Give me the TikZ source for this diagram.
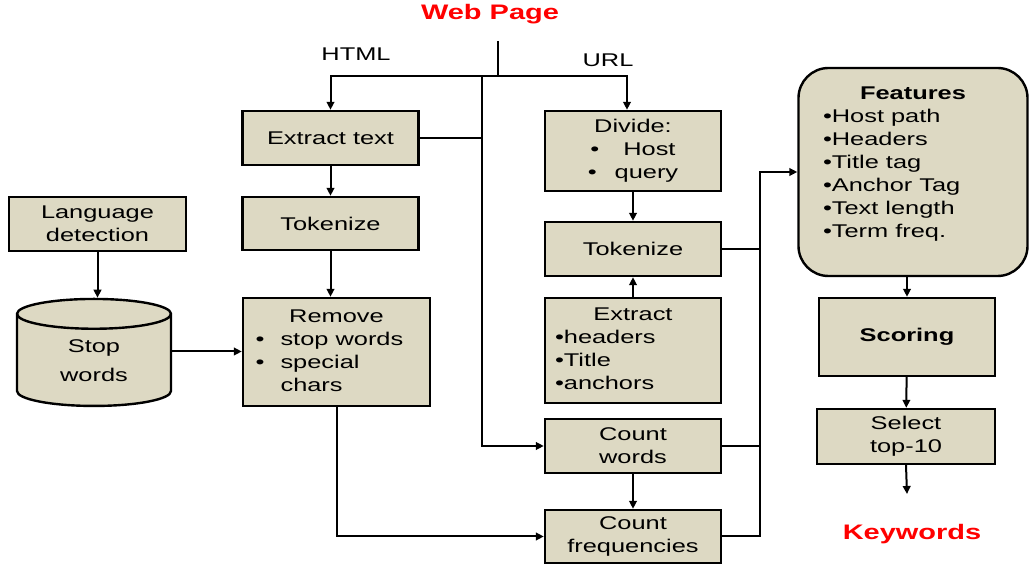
\documentclass[tikz,border=0pt]{standalone}
\usepackage{fontspec}
\setmainfont{Liberation Sans}[FakeStretch=1.38]
\usetikzlibrary{shapes.geometric,arrows.meta}
\definecolor{boxfill}{HTML}{DDD9C3}
\definecolor{titlered}{HTML}{FF0000}
\begin{document}
\begin{tikzpicture}[x=0.5pt,y=-0.5pt,>={Triangle[length=4pt,width=3.8pt]},
  box/.style={draw,line width=1.2pt,fill=boxfill,inner sep=2pt,align=center,minimum width=88pt},
  title/.style={text=titlered,font=\fontsize{10.5}{12}\selectfont\bfseries},
  link/.style={line width=1pt}]
  \fontsize{9.2}{11.5}\selectfont
  \useasboundingbox (0,0) rectangle (1029,566);
  \path
  (490,14) node[title] (web) {Web Page}
  (356,54) node (html) {HTML}
  (608,60) node (url) {URL}
  (330.5,138) node[box,minimum height=27pt] (ext) {Extract text}
  (330.5,223.5) node[box,minimum height=26.5pt] (tokl) {Tokenize}
  (336.5,352) node[box,minimum width=93.5pt,minimum height=54pt] (rem) {%
    \begin{tabular}{@{}l@{\hspace{8pt}}l@{\hspace{7pt}}}
      \multicolumn{2}{c}{Remove}\\
      \textbullet & stop words\\
      \textbullet & special\\
      & chars
    \end{tabular}}
  (97.5,224) node[box,minimum width=88.5pt,minimum height=27pt] (lang) {Language\\detection}
  (94,360.5) node[draw,line width=1.2pt,fill=boxfill,cylinder,shape border rotate=90,
    aspect=0.44,minimum width=77pt,minimum height=53.5pt,inner sep=0pt] (stop) {%
    \raisebox{-3.25pt}[0pt][0pt]{\begin{tabular}{@{}c@{}}
      Stop\\[3pt]
      words
    \end{tabular}}}
  (633,151) node[box,minimum height=40pt] (div) {%
    \begin{tabular}{@{}c@{}}
      Divide:\\
      \textbullet\hspace{12pt}Host\\
      \textbullet\hspace{9pt}query
    \end{tabular}}
  (633,249) node[box,minimum height=27pt] (tokr) {Tokenize}
  (633,350.5) node[box,minimum height=52.5pt] (extr) {%
    \begin{tabular}{@{}p{78pt}@{}}
      \multicolumn{1}{c}{Extract}\\
      \textbullet headers\\
      \textbullet Title\\
      \textbullet anchors
    \end{tabular}}
  (633,446) node[box,minimum height=27pt] (cw) {Count\\words}
  (633,536.5) node[box,minimum height=26.5pt] (cf) {Count\\frequencies}
  (913,172) node[box,rounded corners=15pt,minimum width=114.5pt,minimum height=104pt] (feat) {%
    \begin{tabular}{@{}p{90pt}@{}}
      \multicolumn{1}{c}{\bfseries Features}\\
      \textbullet Host path\\
      \textbullet Headers\\
      \textbullet Title tag\\
      \textbullet Anchor Tag\\
      \textbullet Text length\\
      \textbullet Term freq.\\[8pt]
    \end{tabular}}
  (907,337) node[box,minimum height=39pt] (score) {\bfseries Scoring}
  (906,436.5) node[box,minimum width=89pt,minimum height=27.5pt] (sel) {Select\\top-10}
  (912,534) node[title] (kw) {Keywords};
  \coordinate (stem) at (498,41);
  \coordinate (fork) at (498,76);
  \coordinate (busL) at (482,76);
  \coordinate (busR) at (760,172);
  \coordinate (kwarr) at (907,494);

  \draw[link] (stem) -- (fork);
  \draw[link,->] (fork) -| (ext.north);
  \draw[link,->] (fork) -| ([xshift=-3pt]div.north);
  \draw[link,->] (busL) |- (cw.west);
  \draw[link] (ext.east) -- (ext.east -| busL);
  \draw[link,->] (ext) -- (tokl);
  \draw[link,->] (tokl.south) -- (tokl.south |- rem.north);
  \draw[link,->] (lang.south) -- (lang.south |- stop.north);
  \draw[link,->] ([yshift=4.5pt]stop.east) -- ([yshift=4.5pt]stop.east -| rem.west);
  \draw[link,->] (rem.south) |- (cf.west);
  \draw[link,->] (div) -- (tokr);
  \draw[link,->] (extr) -- (tokr);
  \draw[link,->] (cw) -- (cf);
  \draw[link] (tokr.east) -- (tokr.east -| busR);
  \draw[link] (cw.east) -- (cw.east -| busR);
  \draw[link,->] (cf.east) -| (busR) -- (feat.west);
  \draw[link,->] (feat.south -| score.north) -- (score.north);
  \draw[link,->] (score) -- (sel);
  \draw[link,->] (sel.south) -- (kwarr);
\end{tikzpicture}
\end{document}
